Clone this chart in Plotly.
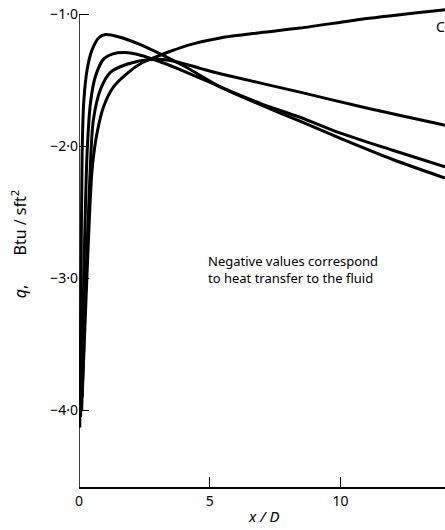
import plotly.graph_objects as go

# Wall heat flux q along the tube, four runs (values in Btu/s ft^2)
xa = [0.03, 0.07, 0.12, 0.18, 0.31, 0.5, 0.75, 1.01, 1.5, 2.35, 3.1, 4.0, 5.4, 7.0, 8.45, 10.0, 12.0, 14.0]
qa = [-4.13, -3.2, -2.05, -1.67, -1.42, -1.27, -1.18, -1.154, -1.17, -1.23, -1.30, -1.39, -1.55, -1.69, -1.81, -1.94, -2.10, -2.24]

xb = [0.06, 0.17, 0.31, 0.44, 0.63, 0.94, 1.3, 1.77, 2.35, 3.1, 4.0, 5.4, 7.0, 8.45, 10.0, 12.0, 14.0]
qb = [-4.05, -3.1, -2.05, -1.67, -1.47, -1.34, -1.30, -1.29, -1.31, -1.36, -1.43, -1.55, -1.68, -1.78, -1.90, -2.03, -2.155]

xc3 = [0.1, 0.25, 0.44, 0.55, 0.82, 1.2, 1.89, 2.73, 3.5, 4.64, 5.4, 8.45, 11.0, 14.0]
qc3 = [-4.0, -3.1, -2.12, -1.80, -1.57, -1.44, -1.375, -1.343, -1.35, -1.41, -1.45, -1.59, -1.71, -1.84]

xcc = [0.12, 0.3, 0.5, 0.69, 0.94, 1.32, 1.89, 2.35, 2.98, 3.5, 4.26, 5.4, 6.93, 8.45, 11.1, 14.0]
qcc = [-3.9, -3.0, -2.18, -1.90, -1.70, -1.55, -1.44, -1.375, -1.32, -1.28, -1.23, -1.18, -1.14, -1.105, -1.03, -0.965]

y_ticks = [-1, -2, -3, -4]
y_ticktext = ["\u22121\u00b70", "\u22122\u00b70", "\u22123\u00b70", "\u22124\u00b70"]
x_ticks = [0, 5, 10]
x_ticktext = ["0", "5", "10"]

FONT = "Noto Sans"

fig = go.Figure()
for xs, ys in [(xa, qa), (xb, qb), (xc3, qc3), (xcc, qcc)]:
    fig.add_trace(go.Scatter(
        x=xs, y=ys, mode="lines",
        line=dict(color="black", width=3, shape="spline", smoothing=0.8),
        showlegend=False, hoverinfo="skip",
    ))

# y axis line stops at the top tick
fig.add_shape(type="line", xref="x", yref="y", x0=0, x1=0, y0=-4.58, y1=-1.0,
              line=dict(color="black", width=1.5))

fig.add_annotation(x=4.87, y=-2.865, xref="x", yref="y", text="Negative values correspond",
                   showarrow=False, xanchor="left", yanchor="middle",
                   font=dict(family=FONT, size=13, color="black"))
fig.add_annotation(x=4.87, y=-3.0, xref="x", yref="y", text="to heat transfer to the fluid",
                   showarrow=False, xanchor="left", yanchor="middle",
                   font=dict(family=FONT, size=13, color="black"))
fig.add_annotation(x=13.58, y=-1.093, xref="x", yref="y", text="C",
                   showarrow=False, xanchor="left", yanchor="middle",
                   font=dict(family=FONT, size=14, color="black"))

# axis titles
fig.add_annotation(x=-0.165, y=0.503, xref="paper", yref="paper",
                   text="<i>q</i>,\u00a0\u00a0\u00a0\u00a0\u00a0\u00a0\u00a0Btu / sft<sup>2</sup>",
                   textangle=-90, showarrow=False, xanchor="center", yanchor="middle",
                   font=dict(family=FONT, size=16, color="black"))
fig.add_annotation(x=0.503, y=-0.06, xref="paper", yref="paper",
                   text="<i>x / D</i>", showarrow=False, xanchor="center", yanchor="middle",
                   font=dict(family=FONT, size=15, color="black"))

fig.update_xaxes(range=[0, 14], showgrid=False, zeroline=False,
                 showline=True, linecolor="black", linewidth=1.5,
                 ticks="inside", ticklen=10, tickwidth=1, tickcolor="black",
                 tickvals=x_ticks, ticktext=x_ticktext,
                 tickfont=dict(family=FONT, size=14, color="black"))
fig.update_yaxes(range=[-4.58, -0.93], showgrid=False, zeroline=False,
                 showline=False,
                 ticks="inside", ticklen=10, tickwidth=1, tickcolor="black",
                 tickvals=y_ticks, ticktext=y_ticktext,
                 tickfont=dict(family=FONT, size=14, color="black"))

fig.update_layout(width=445, height=530,
                  margin=dict(l=78.5, r=0, t=5, b=43),
                  plot_bgcolor="white", paper_bgcolor="white")

fig.write_html("out.html")
